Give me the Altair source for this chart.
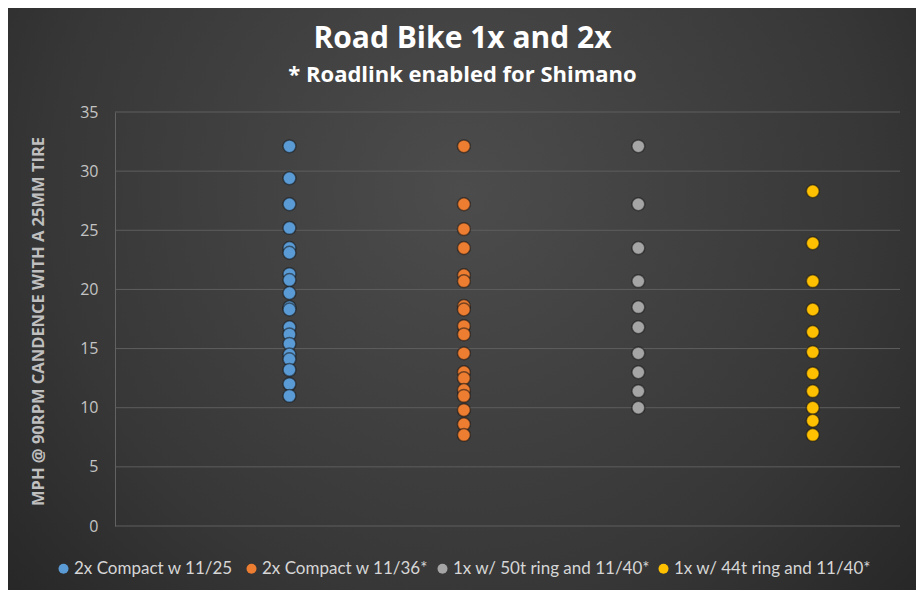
import altair as alt
import pandas as pd

# ---- data ----
series = [
    "2x Compact  w 11/25",
    "2x Compact w 11/36*",
    "1x w/ 50t ring and 11/40*",
    "1x w/ 44t ring and 11/40*",
]
colors = ["#5B9BD5", "#ED7D31", "#A5A5A5", "#FFC000"]

blue = [32.1, 29.4, 27.2, 25.2, 23.5, 23.1, 21.3, 20.8, 19.7, 18.5, 18.3,
        16.8, 16.2, 15.4, 14.5, 14.1, 13.2, 12.0, 11.0]
orange = [32.1, 27.2, 25.1, 23.5, 21.2, 20.7, 18.6, 18.3, 16.9, 16.2, 14.6,
          13.0, 12.5, 11.5, 11.0, 9.8, 8.6, 7.7]
gray = [32.1, 27.2, 23.5, 20.7, 18.5, 16.8, 14.6, 13.0, 11.4, 10.0]
yellow = [28.3, 23.9, 20.7, 18.3, 16.4, 14.7, 12.9, 11.4, 10.0, 8.9, 7.7]

y_ticks = [0, 5, 10, 15, 20, 25, 30, 35]

rows = []
for i, (name, vals) in enumerate(zip(series, [blue, orange, gray, yellow]), start=1):
    for v in vals:
        rows.append({"series": name, "pos": i, "mph": v})
df = pd.DataFrame(rows)
grid_df = pd.DataFrame({"mph": y_ticks})

W, H = 785, 414
PAD = {"left": 107, "top": 104, "right": 16, "bottom": 64}

y_enc = alt.Y(
    "mph:Q",
    scale=alt.Scale(domain=[0, 35], nice=False),
    axis=alt.Axis(
        values=y_ticks,
        grid=False,
        ticks=False,
        tickSize=0,
        domain=True,
        domainColor="#626262",
        domainWidth=1,
        labelColor="#c4c4c4",
        labelFont="Open Sans",
        labelFontSize=16,
        labelPadding=17,
        title="MPH @ 90RPM CANDENCE WITH A 25MM TIRE",
        titleFont="Open Sans",
        titleFontSize=16.5,
        titleFontWeight="bold",
        titleColor="#bfbfbf",
        titleAngle=270,
        titleAlign="center",
        titleBaseline="middle",
        titleX=-77,
        titleY=209,
        zindex=1,
    ),
)

bg_gradient = {
    "gradient": "radial",
    "x1": 0.5, "y1": 0.38, "r1": 0,
    "x2": 0.5, "y2": 0.38, "r2": 0.82,
    "stops": [
        {"offset": 0, "color": "#4c4c4c"},
        {"offset": 0.55, "color": "#373737"},
        {"offset": 1, "color": "#1c1c1c"},
    ],
}

background = alt.Chart(alt.Data(values=[{"k": 1}])).mark_rect(
    fill=bg_gradient
).encode(
    x=alt.value(-PAD["left"]),
    x2=alt.value(W + PAD["right"]),
    y=alt.value(-PAD["top"]),
    y2=alt.value(H + PAD["bottom"]),
)

grid = alt.Chart(grid_df).mark_rule(color="#5e5e5e", strokeWidth=1).encode(
    y=y_enc,
    x=alt.value(0),
    x2=alt.value(W),
)

points = alt.Chart(df).mark_circle(
    size=165, opacity=1, stroke="#141414", strokeWidth=1.5, strokeOpacity=0.55
).encode(
    x=alt.X("pos:Q", scale=alt.Scale(domain=[0, 4.5], nice=False), axis=None),
    y=y_enc,
    color=alt.Color(
        "series:N",
        scale=alt.Scale(domain=series, range=colors),
        legend=alt.Legend(
            title=None,
            orient="none",
            legendX=-60,
            legendY=448,
            direction="horizontal",
            columns=4,
            columnPadding=5,
            symbolType="circle",
            symbolSize=100,
            symbolStrokeWidth=0,
            symbolOpacity=1,
            labelOffset=2,
            labelFont="Lato",
            labelFontSize=17,
            labelColor="#d6d6d6",
            labelLimit=400,
            padding=0,
            zindex=1,
        ),
    ),
)

chart = alt.layer(background, grid, points).properties(
    width=W,
    height=H,
    padding=PAD,
    autosize=alt.AutoSizeParams(type="none"),
    background="#1c1c1c",
    title=alt.TitleParams(
        text="Road Bike 1x and 2x",
        subtitle="* Roadlink enabled for Shimano",
        font="Open Sans",
        fontSize=30,
        fontWeight="bold",
        color="#ffffff",
        subtitleFont="Open Sans",
        subtitleFontSize=22,
        subtitleFontWeight="bold",
        subtitleColor="#ffffff",
        anchor="middle",
        dx=-45,
        offset=-78,
        subtitlePadding=11,
        zindex=1,
    ),
).configure_view(stroke=None)

chart.save("out.html", embed_options={"renderer": "svg", "actions": False})
